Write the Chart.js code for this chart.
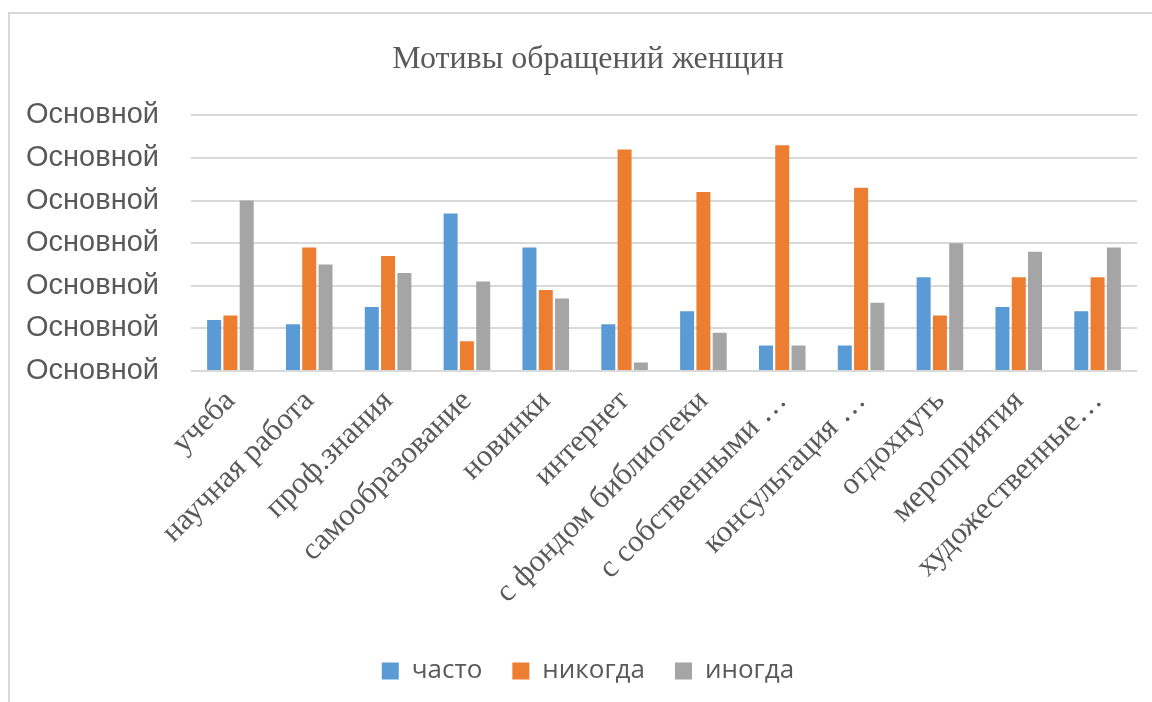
<!DOCTYPE html>
<html>
<head>
<meta charset="utf-8">
<script src="https://cdn.jsdelivr.net/npm/chart.js@4/dist/chart.umd.min.js"></script>
<style>
  html, body { margin: 0; padding: 0; background: #fff; overflow: hidden; }
  #frame { position: absolute; left: 8px; top: 12px; width: 1200px; height: 800px; border: 2px solid #d9d9d9; }
  #wrap { position: absolute; left: 0; top: 0; width: 1176px; height: 702px; }
</style>
</head>
<body>
<div id="frame"></div>
<div id="wrap"><canvas id="chart"></canvas></div>
<script>
const categories = ['учеба', 'научная работа', 'проф.знания', 'самообразование', 'новинки', 'интернет',
  'с фондом библиотеки', 'с собственными …', 'консультация …', 'отдохнуть', 'мероприятия', 'художественные…'];
const often = [12, 11, 15, 37, 29, 11, 14, 6, 6, 22, 15, 14];
const never = [13, 29, 27, 7, 19, 52, 42, 53, 43, 13, 22, 22];
const sometimes = [40, 25, 23, 21, 17, 2, 9, 6, 16, 30, 28, 29];
const yTickLabel = 'Основной';

const textColor = '#595959';

new Chart(document.getElementById('chart'), {
  type: 'bar',
  data: {
    labels: categories,
    datasets: [
      { label: 'часто', data: often, backgroundColor: '#5B9BD5' },
      { label: 'никогда', data: never, backgroundColor: '#ED7D31' },
      { label: 'иногда', data: sometimes, backgroundColor: '#A5A5A5' }
    ]
  },
  options: {
    responsive: true,
    maintainAspectRatio: false,
    animation: false,
    categoryPercentage: 0.62,
    barPercentage: 0.86,
    layout: { padding: { left: 0, right: 0, top: 0, bottom: 8 } },
    plugins: {
      title: {
        display: true,
        text: 'Мотивы обращений женщин',
        color: textColor,
        font: { family: '"Liberation Serif", "Times New Roman", serif', size: 32, weight: 'normal' },
        padding: { top: 40, bottom: 37 }
      },
      legend: {
        position: 'bottom',
        labels: {
          color: textColor,
          font: { family: '"Open Sans", "Liberation Sans", sans-serif', size: 26 },
          boxWidth: 17,
          boxHeight: 17,
          padding: 30
        }
      },
      tooltip: { enabled: false }
    },
    scales: {
      x: {
        grid: { display: false },
        border: { display: false },
        afterFit: (s) => { s.height = 257; s.paddingRight = 39; },
        ticks: {
          color: textColor,
          font: { family: '"Liberation Serif", "Times New Roman", serif', size: 31 },
          minRotation: 45,
          maxRotation: 45,
          autoSkip: false,
          padding: 4
        }
      },
      y: {
        min: 0,
        max: 60,
        grid: { color: '#d9d9d9', lineWidth: 2, drawTicks: false },
        border: { display: false },
        afterFit: (s) => { s.width = 191; },
        ticks: {
          stepSize: 10,
          color: textColor,
          padding: 32,
          font: { family: '"Liberation Sans", Arial, sans-serif', size: 29 },
          callback: () => yTickLabel
        }
      }
    }
  }
});
</script>
</body>
</html>
